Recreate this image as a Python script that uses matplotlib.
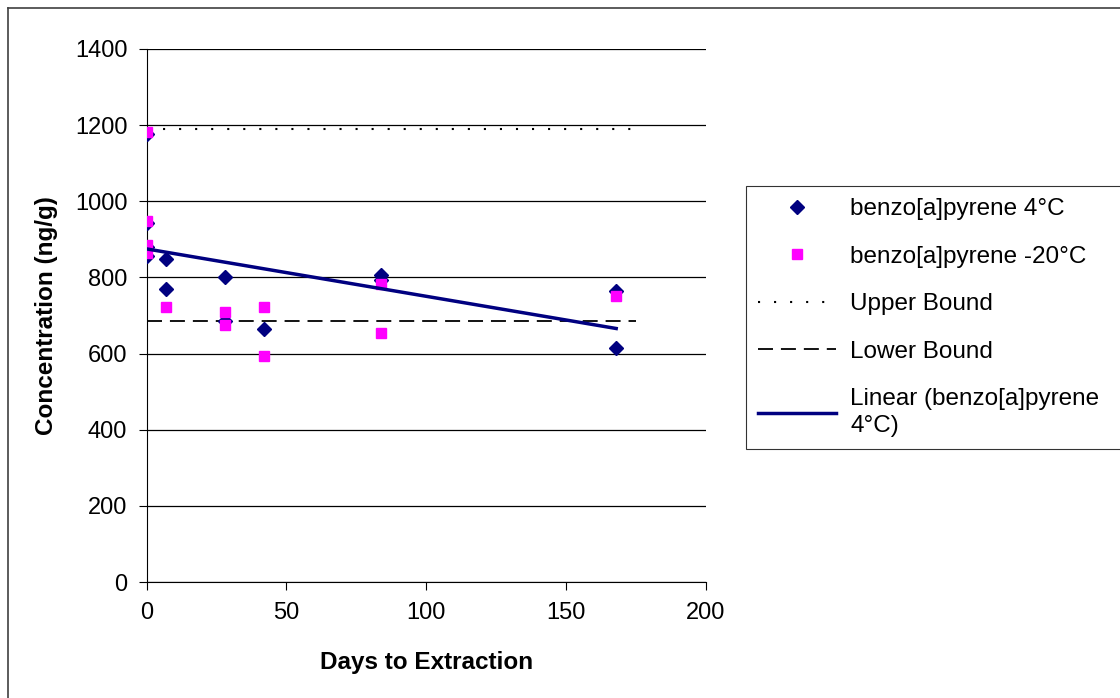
import numpy as np
import matplotlib.pyplot as plt
from matplotlib.lines import Line2D

plt.rcParams['font.family'] = ['Liberation Sans', 'DejaVu Sans']

# 4 C samples
days_4c = [0, 0, 0, 0, 7, 7, 28, 28, 42, 84, 84, 168, 168]
conc_4c = [1177, 944, 881, 857, 848, 770, 800, 686, 665, 806, 793, 765, 614]

# -20 C samples
days_m20 = [0, 0, 0, 0, 7, 28, 28, 42, 42, 84, 84, 168]
conc_m20 = [1182, 948, 885, 865, 723, 710, 675, 723, 594, 782, 653, 751]

bound_days = [0, 175]
upper_bound = 1190
lower_bound = 686

fig = plt.figure(figsize=(11.2, 6.98), dpi=100)
ax = fig.add_axes([0.131, 0.166, 0.499, 0.764])

ax.yaxis.grid(True, color='black', linewidth=0.9)
ax.set_axisbelow(True)

ax.plot(days_4c, conc_4c, linestyle='none', marker='D', markersize=7.5,
        color='#000080', label='benzo[a]pyrene 4°C', zorder=3)
ax.plot(days_m20, conc_m20, linestyle='none', marker='s', markersize=6.5,
        color='#FF00FF', label='benzo[a]pyrene -20°C', zorder=3)
ax.plot(bound_days, [upper_bound] * 2, color='black', linestyle=(0, (1, 6.7)),
        linewidth=1.5, label='Upper Bound')
ax.plot(bound_days, [lower_bound] * 2, color='black', linestyle=(0, (8.3, 4.4)),
        linewidth=1.3, label='Lower Bound')

slope, intercept = np.polyfit(days_4c, conc_4c, 1)
fit_x = np.array([0, max(days_4c)])
ax.plot(fit_x, slope * fit_x + intercept, color='#000080', linewidth=2.5,
        label='Linear (benzo[a]pyrene\n4°C)', zorder=4)

ax.set_xlim(0, 200)
ax.set_ylim(0, 1400)
ax.set_xticks(range(0, 201, 50))
ax.set_yticks(range(0, 1401, 200))
ax.tick_params(labelsize=17, direction='out', length=6, pad=8)
for s in ['top', 'right']:
    ax.spines[s].set_visible(False)

ax.set_xlabel('Days to Extraction', fontsize=17.5, fontweight='bold', labelpad=20)
ax.set_ylabel('Concentration (ng/g)', fontsize=17.5, fontweight='bold', labelpad=12)

# legend box runs off the right edge like in the source
leg = ax.legend(loc='upper left', bbox_to_anchor=(1.072, 0, 0.68, 0.743),
                mode='expand', fontsize=17.5,
                frameon=True, fancybox=False, edgecolor='black',
                borderpad=0.5, labelspacing=1.05, handlelength=3.2,
                handletextpad=0.6, borderaxespad=0)
leg.get_frame().set_linewidth(0.8)
leg.get_texts()[-1].set_linespacing(1.3)

# outer chart frame (only left and top edges visible in the source)
fig.add_artist(Line2D([0.0068, 0.0068], [0, 0.988], transform=fig.transFigure,
                      color='#404040', linewidth=1.2))
fig.add_artist(Line2D([0.0068, 1], [0.988, 0.988], transform=fig.transFigure,
                      color='#404040', linewidth=1.2))

fig.savefig('out.png', dpi=100)
